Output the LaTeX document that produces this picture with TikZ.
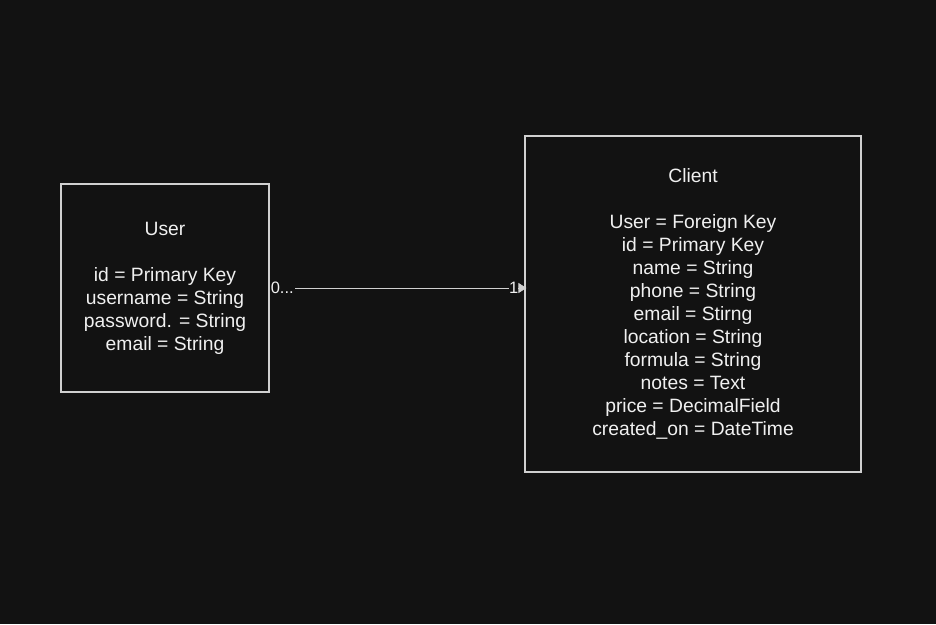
\documentclass[tikz,border=0pt]{standalone}
\usepackage{fontspec}
\setmainfont{Liberation Sans}
\usepackage{xcolor}
\usepackage{tikz}
\usetikzlibrary{arrows.meta,positioning}
\definecolor{cBg}{HTML}{121212}
\definecolor{cEdge}{HTML}{D0D0D0}
\definecolor{cText}{HTML}{F0F0F0}
\tikzset{
  ent/.style={draw=cEdge, line width=1.1pt, fill=cBg, text=cText,
              align=center, inner sep=0pt, font=\fontsize{19.3}{23}\selectfont},
  rel/.style={-{Triangle[length=8pt,width=10pt]}, line width=0.9pt, cEdge,
              shorten >=-2pt},
  card/.style={fill=cBg, text=cText, inner sep=1pt, font=\fontsize{16.5}{19}\selectfont}
}

\begin{document}
\begin{tikzpicture}[x=1pt,y=-1pt]
% ----- canvas -----
\fill[cBg] (0,0) rectangle (936,624);
\useasboundingbox (0,0) rectangle (936,624);
% ----- entities -----
\node[ent, minimum width=208pt, minimum height=208pt] (user) at (165,288)
  {User\\[23pt]id = Primary Key\\username = String\\password. = String\\email = String};
\node[ent, minimum width=336pt, minimum height=336pt] (client) at (693,304)
  {Client\\[23pt]User = Foreign Key\\id = Primary Key\\name = String\\phone = String\\
   email = Stirng\\location = String\\formula = String\\notes = Text\\
   price = DecimalField\\created\_on = DateTime};
% ----- relation -----
\draw[rel] (user.east) -- (user.east -| client.west);
\node[card, anchor=west] (src) at (user.east) {0...};
\node[card, inner xsep=0pt, left=6pt of {user.east -| client.west}] (dst) {1};
\end{tikzpicture}
\end{document}
